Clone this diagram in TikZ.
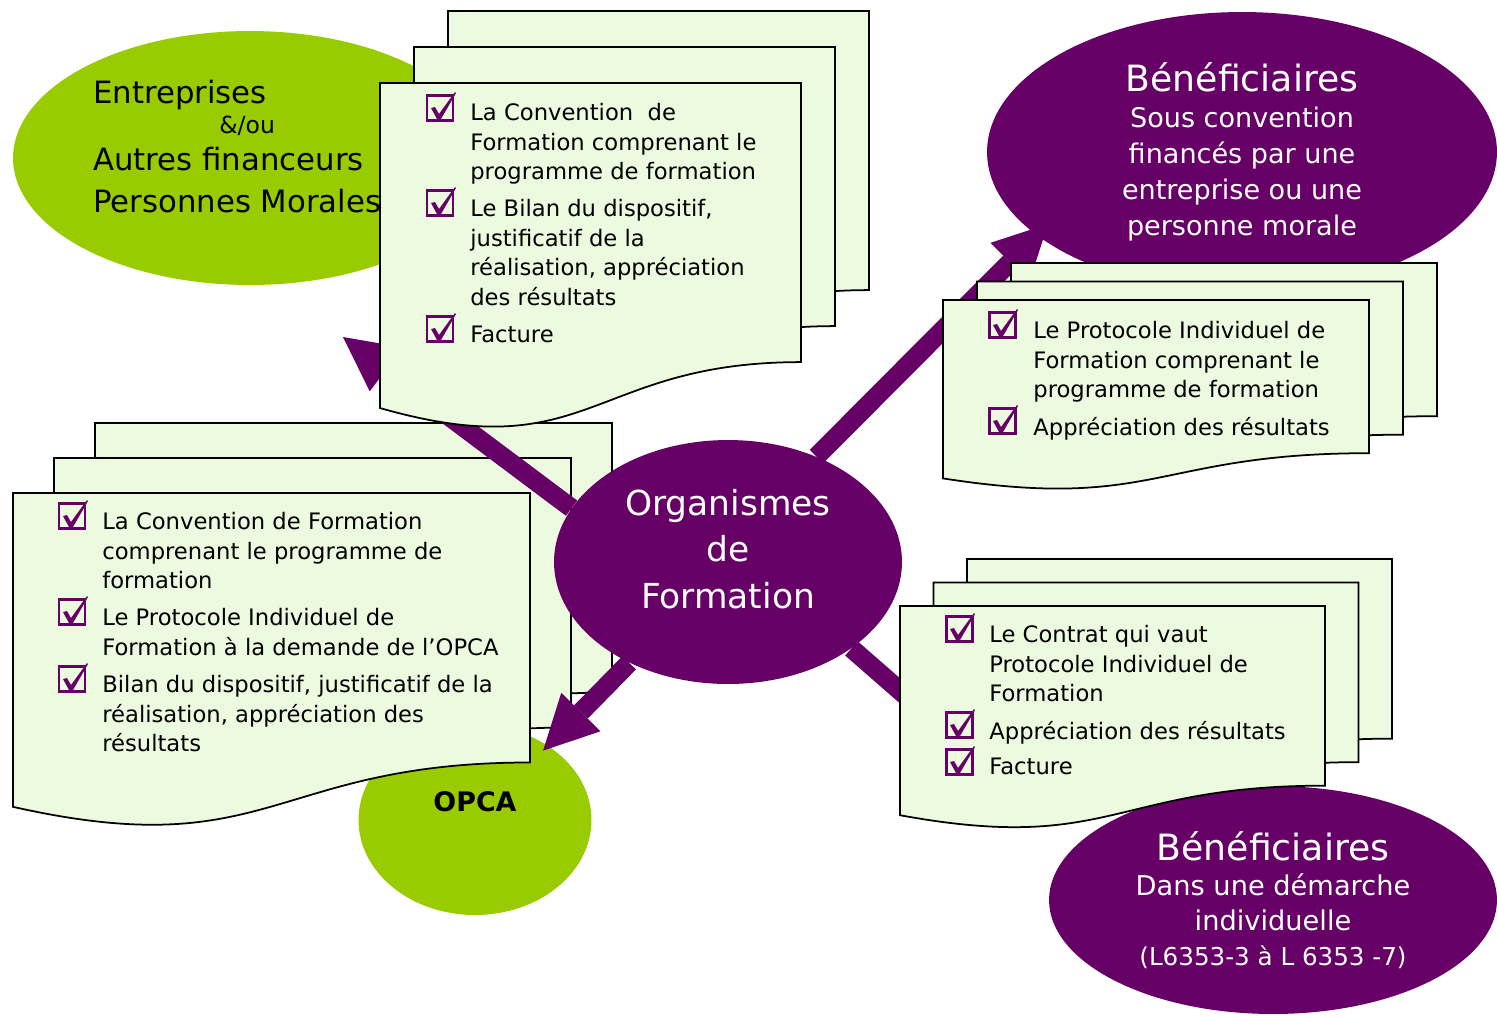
\documentclass[tikz,border=0pt]{standalone}
\usepackage{fontspec}
\setmainfont{DejaVu Sans}
\usetikzlibrary{shapes.geometric, arrows.meta}
\definecolor{orgpurple}{RGB}{102,0,102}
\definecolor{fundgreen}{RGB}{153,204,0}
\definecolor{paperfill}{RGB}{236,250,224}

\tikzset{
	docpage/.style={draw=black, fill=paperfill, line width=1pt},
	doctext/.style={anchor=north west, inner sep=0pt, align=left, font=\fontsize{12.9}{16.8}\selectfont},
	blob/.style={ellipse, inner sep=0pt, draw=none},
	bigarrow/.style={draw=orgpurple, line width=0.38cm, -{Triangle[length=1.08cm, width=1.1cm, line width=0pt]}},
	chkbox/.pic={
		\draw[orgpurple, line width=1.7pt] (0,0) rectangle (26,25);
		\fill[orgpurple] (4,13) -- (8,12) -- (12,19) -- (28,-3) -- (29,-2) -- (14,24) -- (10,24) -- cycle;
	}
}

% stack of three pages: x, y, width, height, dx, dy
\newcommand{\docstack}[6]{
	\foreach \k in {2,1,0}{
		\begin{scope}[shift={({#1+\k*#5},{#2-\k*#6})}]
			\filldraw[docpage] (0,0) -- (#3,0) -- (#3,{0.802*#4})
				.. controls ({#3/2},{0.802*#4}) and ({#3/2},{1.1075*#4}) .. (0,{0.934*#4}) -- cycle;
		\end{scope}
	}
}

\begin{document}
\begin{tikzpicture}[x=0.02cm, y=-0.02cm]
		\useasboundingbox (0,0) rectangle (1497,1015);

		% the partners
		\node[blob, fill=fundgreen, minimum width=9.48cm, minimum height=5.08cm] (ent) at (250,158) {};
		\node[anchor=north west, inner sep=0pt, align=left, font=\fontsize{17.5}{23.8}\selectfont] (enttxt) at (93,80)
			{Entreprises\\[-6.8pt]\hspace*{71.7pt}{\fontsize{13.4}{23.8}\selectfont\&/ou}\\[-2.8pt]Autres financeurs\\Personnes Morales};
		\node[blob, fill=orgpurple, text=white, align=center, font=\fontsize{15.4}{20.5}\selectfont,
			minimum width=10.2cm, minimum height=5.6cm] (benef1) at (1242,152)
			{{\fontsize{20.6}{21}\selectfont Bénéficiaires}\\Sous convention\\financés par une\\entreprise ou une\\personne morale};
		\node[blob, fill=orgpurple, text=white, align=center, font=\fontsize{15.5}{20}\selectfont,
			minimum width=8.96cm, minimum height=4.56cm] (benef2) at (1273,900)
			{{\fontsize{20.6}{21}\selectfont Bénéficiaires}\\Dans une démarche\\individuelle\\{\fontsize{14}{20}\selectfont (L6353-3 à L 6353 -7)}};
		\node[blob, fill=fundgreen, minimum width=4.66cm, minimum height=3.8cm] (opca) at (475,820) {};

		% documents for the OPCA
		\docstack{13}{493}{517}{336}{41}{35}
		\pic at (59,503) {chkbox};
		\pic at (59,599) {chkbox};
		\pic at (59,666) {chkbox};
		\node[doctext] (opca1) at (102,512) {La Convention de Formation\\comprenant le programme de\\formation};
		\node[doctext] (opca2) at (102,608) {Le Protocole Individuel de\\Formation à la demande de l’OPCA};
		\node[doctext] (opca3) at (102,675) {Bilan du dispositif, justificatif de la\\réalisation, appréciation des\\résultats};
		\node[font=\bfseries\fontsize{15.3}{18}\selectfont] (opcatxt) at (475,802) {OPCA};

		% centre
		\node[blob, fill=orgpurple, minimum width=6.96cm, minimum height=4.88cm] (org) at (728,562) {};
		\node[text=white, align=center, font=\fontsize{19.6}{26.4}\selectfont] (orgtxt) at (728,549) {Organismes\\de\\Formation};

		\coordinate (enttip) at (343,337);
		\coordinate (b1tip) at (1048,224);
		\coordinate (b2tip) at (985,765);
		\draw[bigarrow] (org.161) -- (enttip);
		\draw[bigarrow] (org.50) -- (b1tip);
		\draw[bigarrow] (org.-35) -- (b2tip);
		\draw[bigarrow, shorten >=-0.14cm] (org) -- (opca);

		% documents for the companies
		\docstack{380}{83}{421}{348}{34}{36}
		\pic at (427,95) {chkbox};
		\pic at (427,190) {chkbox};
		\pic at (427,316) {chkbox};
		\node[doctext] (ent1) at (470,103) {La Convention~ de\\Formation comprenant le\\programme de formation};
		\node[doctext] (ent2) at (470,199) {Le Bilan du dispositif,\\justificatif de la\\réalisation, appréciation\\des résultats};
		\node[doctext] (ent3) at (470,326) {Facture};

		% documents for the funded trainees
		\docstack{943}{300}{426}{191}{34}{18.5}
		\pic at (989,312) {chkbox};
		\pic at (989,408) {chkbox};
		\node[doctext] (ben1) at (1033,321) {Le Protocole Individuel de\\Formation comprenant le\\programme de formation};
		\node[doctext] (ben2) at (1033,417) {Appréciation des résultats};

		% documents for the individual trainees
		\docstack{900}{606}{425}{224}{33.5}{23.5}
		\pic at (946,616) {chkbox};
		\pic at (946,712) {chkbox};
		\pic at (946,749) {chkbox};
		\node[doctext] (ind1) at (989,625) {Le Contrat qui vaut\\Protocole Individuel de\\Formation};
		\node[doctext] (ind2) at (989,721) {Appréciation des résultats};
		\node[doctext] (ind3) at (989,758) {Facture};
	\end{tikzpicture}
\end{document}
